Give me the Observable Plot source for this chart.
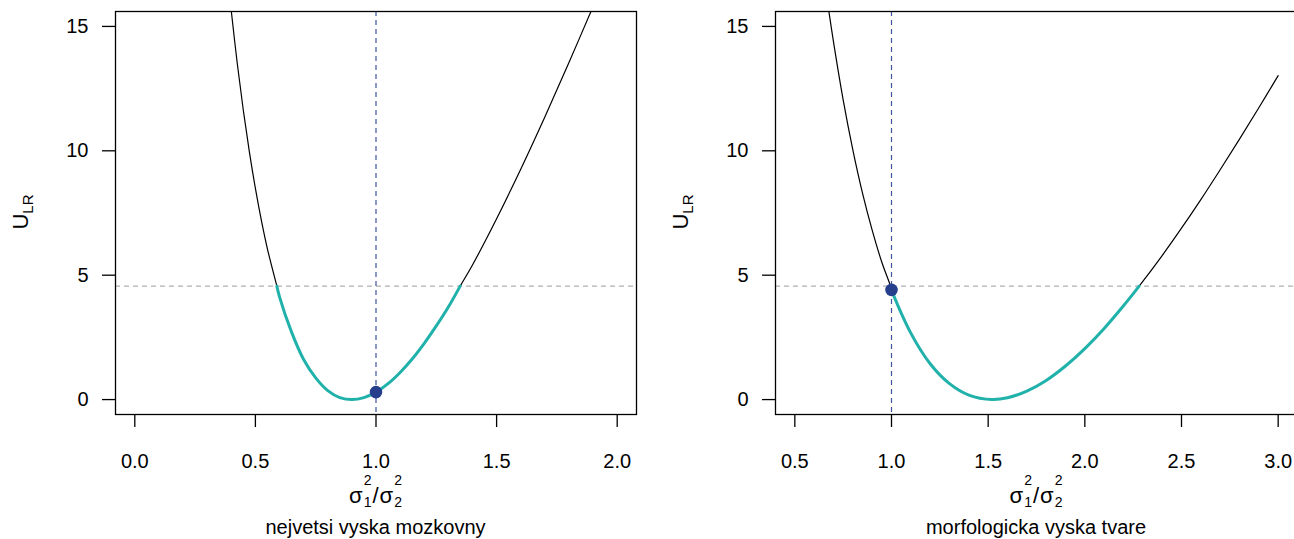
<!DOCTYPE html>
<html>
<head>
<meta charset="utf-8">
<script src="https://cdn.jsdelivr.net/npm/d3@7"></script>
<script src="https://cdn.jsdelivr.net/npm/@observablehq/plot@0.6"></script>
<style>
  html, body { margin: 0; padding: 0; background: #fff; overflow: hidden; }
  #wrap { display: flex; width: 1294px; height: 539px; overflow: hidden; }
  svg { flex: none; font-family: "Liberation Sans", Arial, sans-serif; }
</style>
</head>
<body>
<div id="wrap"></div>
<script>
// ---- data ----
const critical = 4.56;

const leftTitle = "nejvetsi vyska mozkovny";
const leftTicks = [0, 0.5, 1, 1.5, 2];
const leftRatio = [0.39, 0.40, 0.425, 0.45, 0.475, 0.50, 0.525, 0.55, 0.589, 0.60, 0.65, 0.70, 0.75, 0.80, 0.85, 0.90, 0.95, 1.00, 1.05, 1.10, 1.15, 1.20, 1.25, 1.30, 1.349, 1.40, 1.50, 1.60, 1.70, 1.80, 1.90];
const leftU     = [16.5, 15.62, 13.50, 11.62, 9.96, 8.49, 7.19, 6.05, 4.56, 4.13, 2.71, 1.61, 0.87, 0.36, 0.08, 0.00, 0.08, 0.30, 0.64, 1.09, 1.63, 2.26, 2.96, 3.72, 4.56, 5.41, 7.27, 9.26, 11.36, 13.55, 15.8];
const leftPoint = {r: 1, u: 0.30};

const rightTitle = "morfologicka vyska tvare";
const rightTicks = [0.5, 1, 1.5, 2, 2.5, 3];
const rightRatio = [0.67, 0.70, 0.75, 0.80, 0.85, 0.90, 0.95, 0.995, 1.00, 1.10, 1.20, 1.30, 1.40, 1.52, 1.60, 1.70, 1.80, 1.90, 2.00, 2.10, 2.20, 2.281, 2.40, 2.50, 2.60, 2.70, 2.80, 2.90, 3.00];
const rightU     = [15.92, 14.38, 12.05, 10.04, 8.30, 6.81, 5.52, 4.56, 4.41, 2.67, 1.44, 0.64, 0.18, 0.00, 0.07, 0.34, 0.77, 1.35, 2.05, 2.86, 3.77, 4.56, 5.79, 6.89, 8.04, 9.24, 10.47, 11.73, 13.02];
const rightPoint = {r: 1, u: 4.41};

const yTicks = [0, 5, 10, 15];

// ---- styles ----
const teal = "#20b2aa";
const dotColor = "#263f8c";
const vColor = "#3f55a0";
const hColor = "#b0b0b0";
const FS = 20;

function panel({ratio, u, point, xDomain, xTicks, title, width, marginLeft, marginRight}) {
  const data = ratio.map((r, i) => ({r, u: u[i]}));
  const inside = data.filter(d => d.u <= critical);
  const svg = Plot.plot({
    width, height: 539,
    marginLeft, marginRight, marginTop: 11, marginBottom: 125,
    style: {fontFamily: "Liberation Sans, Arial, sans-serif", fontSize: FS + "px", color: "black", background: "white"},
    x: {domain: xDomain, label: null},
    y: {domain: [-0.6, 15.6], label: null},
    marks: [
      Plot.axisX({ticks: xTicks, tickFormat: d3.format(".1f"), tickSize: 13, tickPadding: 26, strokeWidth: 1.3, fontSize: FS, label: null}),
      Plot.axisY({ticks: yTicks, tickSize: 13, tickPadding: 14, strokeWidth: 1.3, fontSize: FS, label: null}),
      Plot.ruleY([critical], {stroke: hColor, strokeWidth: 1.2, strokeDasharray: "5,4"}),
      Plot.ruleX([1], {stroke: vColor, strokeWidth: 1.2, strokeDasharray: "5,4"}),
      Plot.line(data, {x: "r", y: "u", stroke: "black", strokeWidth: 1.2, curve: "catmull-rom", clip: true}),
      Plot.line(inside, {x: "r", y: "u", stroke: teal, strokeWidth: 3, curve: "catmull-rom", clip: true}),
      Plot.dot([point], {x: "r", y: "u", r: 6.3, fill: dotColor, stroke: "none"}),
      Plot.frame({stroke: "black", strokeWidth: 1.3})
    ]
  });
  const sel = d3.select(svg);
  const cx = marginLeft + (width - marginLeft - marginRight) / 2;
  // y label U_LR
  const yl = sel.append("text")
    .attr("transform", `translate(${marginLeft - 87},212) rotate(-90)`)
    .attr("text-anchor", "middle")
    .attr("font-size", 22)
    .attr("fill", "black");
  yl.append("tspan").text("U");
  yl.append("tspan").attr("font-size", 15).attr("dy", 5).text("LR");
  // x label sigma_1^2 / sigma_2^2 as one text element
  const xl = sel.append("text")
    .attr("x", cx).attr("y", 503)
    .attr("text-anchor", "middle")
    .attr("font-size", 22)
    .attr("fill", "black");
  const pieces = [
    {t: "σ", s: 22, dx: 0, dy: 0},
    {t: "2", s: 14, dx: 1, dy: -18},
    {t: "1", s: 14, dx: -7.8, dy: 22},
    {t: "/", s: 22, dx: 1, dy: -4},
    {t: "σ", s: 22, dx: 1, dy: 0},
    {t: "2", s: 14, dx: 1, dy: -18},
    {t: "2", s: 14, dx: -7.8, dy: 22}
  ];
  for (const p of pieces) {
    xl.append("tspan").attr("font-size", p.s).attr("dx", p.dx).attr("dy", p.dy).text(p.t);
  }
  sel.append("text").attr("x", cx).attr("y", 534).attr("text-anchor", "middle")
    .attr("font-size", FS).attr("fill", "black").text(title);
  return svg;
}

const wrap = document.getElementById("wrap");
wrap.append(panel({ratio: leftRatio, u: leftU, point: leftPoint, xDomain: [-0.08, 2.08], xTicks: leftTicks, title: leftTitle, width: 647, marginLeft: 115, marginRight: 11}));
wrap.append(panel({ratio: rightRatio, u: rightU, point: rightPoint, xDomain: [0.4, 3.1], xTicks: rightTicks, title: rightTitle, width: 652, marginLeft: 128, marginRight: 2}));
</script>
</body>
</html>
